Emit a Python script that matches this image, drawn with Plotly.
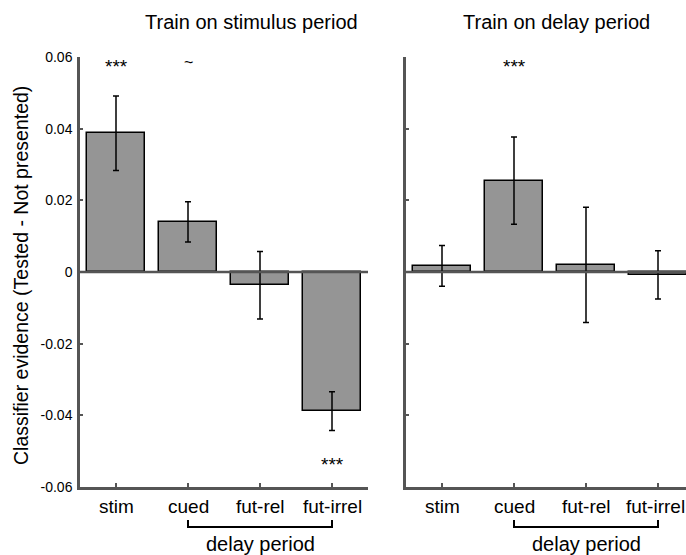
import plotly.graph_objects as go

categories = ["stim", "cued", "fut-rel", "fut-irrel"]
stim_train_mean = [0.0387, 0.0140, -0.0037, -0.0388]
stim_train_err = [0.0104, 0.0056, 0.0094, 0.0054]
delay_train_mean = [0.0017, 0.0255, 0.0020, -0.0008]
delay_train_err = [0.0057, 0.0122, 0.0161, 0.0067]
y_ticks = [-0.06, -0.04, -0.02, 0, 0.02, 0.04, 0.06]
y_tick_labels = ["-0.06", "-0.04", "-0.02", "0", "0.02", "0.04", "0.06"]
titles = ["Train on stimulus period", "Train on delay period"]
stim_train_sig = ["***", "~", "", "***"]
delay_train_sig = ["", "***", "", ""]
bracket_label = "delay period"

x_pos = [i + 1 for i in range(len(categories))]

W, H = 686, 555
T, B = 57, 68
PLOT_H = H - T - B
FONT = "Liberation Sans, Arial, sans-serif"
AXC = "#555555"
BARC = "#959595"


def px(x):
    return x / W


def py(y):
    return (H - B - y) / PLOT_H


fig = go.Figure()

for k, (m, e) in enumerate([(stim_train_mean, stim_train_err), (delay_train_mean, delay_train_err)]):
    fig.add_trace(go.Bar(
        x=x_pos, y=m, width=0.8,
        marker=dict(color=BARC, line=dict(color="black", width=1.5)),
        error_y=dict(type="data", array=e, visible=True, color="black", thickness=1.5, width=3),
        xaxis="x" if k == 0 else "x2", yaxis="y" if k == 0 else "y2",
        showlegend=False, hoverinfo="skip",
    ))

common_y = dict(range=[-0.06, 0.06], tickvals=y_ticks, showgrid=False, zeroline=False,
                showline=True, linecolor=AXC, linewidth=2.5, ticks="inside", ticklen=3,
                tickcolor=AXC, tickwidth=2, domain=[0, 1])
common_x = dict(tickvals=x_pos, showticklabels=False, showgrid=False, zeroline=False,
                showline=True, linecolor=AXC, linewidth=2.5, ticks="inside", ticklen=4,
                tickcolor=AXC, tickwidth=2)

fig.update_layout(
    width=W, height=H,
    margin=dict(l=0, r=0, t=T, b=B),
    paper_bgcolor="white", plot_bgcolor="white",
    font=dict(family=FONT, color="black"),
    bargap=0,
    xaxis=dict(common_x, domain=[px(80), px(368)], range=[0.5, 4.5], anchor="y"),
    yaxis=dict(common_y, ticktext=y_tick_labels, tickfont=dict(size=14, color="black", family=FONT),
               ticklabelstandoff=2, anchor="x"),
    xaxis2=dict(common_x, domain=[px(406), 1], range=[0.5, 0.5 + 280 / 72], anchor="y2"),
    yaxis2=dict(common_y, showticklabels=False, anchor="x2"),
)

shapes = []
annotations = []
for k, xr in enumerate(["x", "x2"]):
    yr = "y" if k == 0 else "y2"
    shapes.append(dict(type="line", xref=xr + " domain", yref=yr, x0=0, x1=1, y0=0, y1=0,
                       line=dict(color=AXC, width=2.5), layer="above"))
    for j, (xv, cat) in enumerate(zip(x_pos, categories)):
        shift = -3 if (k == 1 and j == len(categories) - 1) else 0
        annotations.append(dict(xref=xr, yref="paper", x=xv, y=py(506), text=cat,
                                showarrow=False, font=dict(size=19), xshift=shift,
                                xanchor="center", yanchor="middle"))
    y_lo = py(527)
    y_hi = py(520)
    x0, x1 = x_pos[1], x_pos[3]
    shapes.append(dict(type="path", xref=xr, yref="paper",
                       path=f"M {x0},{y_hi} L {x0},{y_lo} L {x1},{y_lo} L {x1},{y_hi}",
                       line=dict(color="black", width=2)))
    annotations.append(dict(xref=xr, yref="paper", x=(x0 + x1) / 2, y=py(544),
                            text=bracket_label, showarrow=False, font=dict(size=20),
                            yanchor="middle", xanchor="center"))

annotations.append(dict(xref="paper", yref="paper", x=px(251), y=py(22), text=titles[0],
                        showarrow=False, font=dict(size=20), xanchor="center", yanchor="middle"))
annotations.append(dict(xref="paper", yref="paper", x=px(556), y=py(22), text=titles[1],
                        showarrow=False, font=dict(size=20), xanchor="center", yanchor="middle"))

annotations.append(dict(xref="paper", yref="paper", x=px(21), y=py(276),
                        text="Classifier evidence (Tested - Not presented)", textangle=-90,
                        showarrow=False, font=dict(size=19.5), xanchor="center", yanchor="middle"))

for k, sig in enumerate([stim_train_sig, delay_train_sig]):
    xr = "x" if k == 0 else "x2"
    means = stim_train_mean if k == 0 else delay_train_mean
    for i, s in enumerate(sig):
        if not s:
            continue
        if s == "***":
            ypix = 66 if means[i] >= 0 else 464
            size = 19
        else:
            ypix = 63
            size = 16
        annotations.append(dict(xref=xr, yref="paper", x=x_pos[i], y=py(ypix), text=s,
                                showarrow=False, font=dict(size=size),
                                xanchor="center", yanchor="middle"))

fig.update_layout(shapes=shapes, annotations=annotations)
fig.write_html("out.html", post_script="document.body.style.margin='0px';",
               config={"displayModeBar": False})
